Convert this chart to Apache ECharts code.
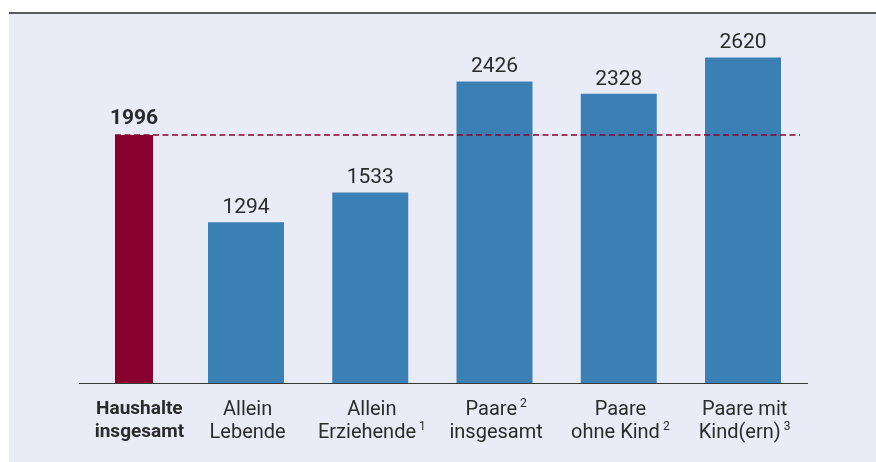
<!DOCTYPE html>
<html style="height: 100%">
<head>
    <meta charset="utf-8">
    <title>Haushalte</title>
    <script src="https://cdn.jsdelivr.net/npm/echarts@6/dist/echarts.min.js"></script>
    <style>
        html,body{margin:0;padding:0;background:#fff;}
        #main{width:876px;height:462px;}
    </style>
</head>
<body>
<div id="main"></div>
<script>
    // Kategorien (mit Hochzahlen als rich text)
    var categories = [
        '{b|Haushalte}\n{b|insgesamt}',
        'Allein\nLebende',
        'Allein\nErziehende{sup|1}',
        'Paare{sup|2}\ninsgesamt',
        'Paare\nohne Kind{sup|2}',
        'Paare mit\nKind(ern){sup|3}'
    ];
    // Haushalte insgesamt (roter Balken)
    var totalValues = [1996, '-', '-', '-', '-', '-'];
    // Haushaltstypen (blaue Balken)
    var groupValues = ['-', 1294, 1533, 2426, 2328, 2620];

    var textColor = '#2b2b2b';
    var red = '#88002e';
    var blue = '#3a80b5';

    var myChart = echarts.init(document.getElementById('main'));
    var option = {
        animation: false,
        backgroundColor: '#fff',
        graphic: [
            {id: 'bg', type: 'rect', z: -10, silent: true,
                shape: {x: 9, y: 13, width: 867, height: 449},
                style: {fill: '#e9ecf7'}},
            {id: 'topline', type: 'line', silent: true,
                shape: {x1: 9, y1: 13, x2: 876, y2: 13},
                style: {stroke: '#5a5a5a', lineWidth: 2}},
            {id: 'baseline', type: 'line', silent: true, z: 10,
                shape: {x1: 79, y1: 383.5, x2: 808, y2: 383.5},
                style: {stroke: '#3a3a3a', lineWidth: 1.2}}
        ],
        grid: {left: 56.25, right: 74.25, top: 10.26, bottom: 79},
        xAxis: {
            type: 'category',
            data: categories,
            axisLine: {show: false},
            axisTick: {show: false},
            axisLabel: {
                interval: 0,
                margin: 15,
                fontSize: 20,
                lineHeight: 23,
                fontFamily: 'Roboto',
                color: textColor,
                padding: [0, 0, 0, 10],
                rich: {
                    b: {fontWeight: 'bold', fontSize: 19, lineHeight: 23, fontFamily: 'Roboto', color: textColor, padding: [0, 0, 0, 32]},
                    sup: {fontSize: 12, lineHeight: 12, verticalAlign: 'top', fontFamily: 'Roboto', color: textColor, padding: [0, 0, 0, 3]}
                }
            }
        },
        yAxis: {type: 'value', min: 0, max: 3000, show: false},
        series: [
            {
                name: 'Haushaltstypen',
                type: 'bar',
                data: groupValues,
                barWidth: 76,
                barGap: '-58.9%',
                itemStyle: {color: blue},
                label: {show: true, position: 'top', distance: 4, fontSize: 21, fontFamily: 'Roboto', color: textColor}
            },
            {
                name: 'Haushalte insgesamt',
                type: 'bar',
                data: totalValues,
                barWidth: 38,
                barGap: '-58.9%',
                itemStyle: {color: red},
                label: {show: true, position: 'top', distance: 6, fontSize: 21, fontWeight: 'bold', fontFamily: 'Roboto', color: textColor}
            }
        ]
    };
    myChart.setOption(option);

    // gestrichelte Linie auf Höhe "Haushalte insgesamt"
    var y = myChart.convertToPixel({seriesIndex: 1}, [0, totalValues[0]])[1];
    var x0 = 115;
    try {
        var lay = myChart.getModel().getSeriesByIndex(1).getData().getItemLayout(0);
        if (lay && lay.x) x0 = lay.x;
    } catch (e) {}
    myChart.setOption({
        graphic: [
            {id: 'ref', type: 'line', silent: true, z: 20,
                shape: {x1: x0, y1: y, x2: 800, y2: y},
                style: {stroke: red, lineWidth: 1.5, lineDash: [6, 3.5]}}
        ]
    });
</script>
</body>
</html>
